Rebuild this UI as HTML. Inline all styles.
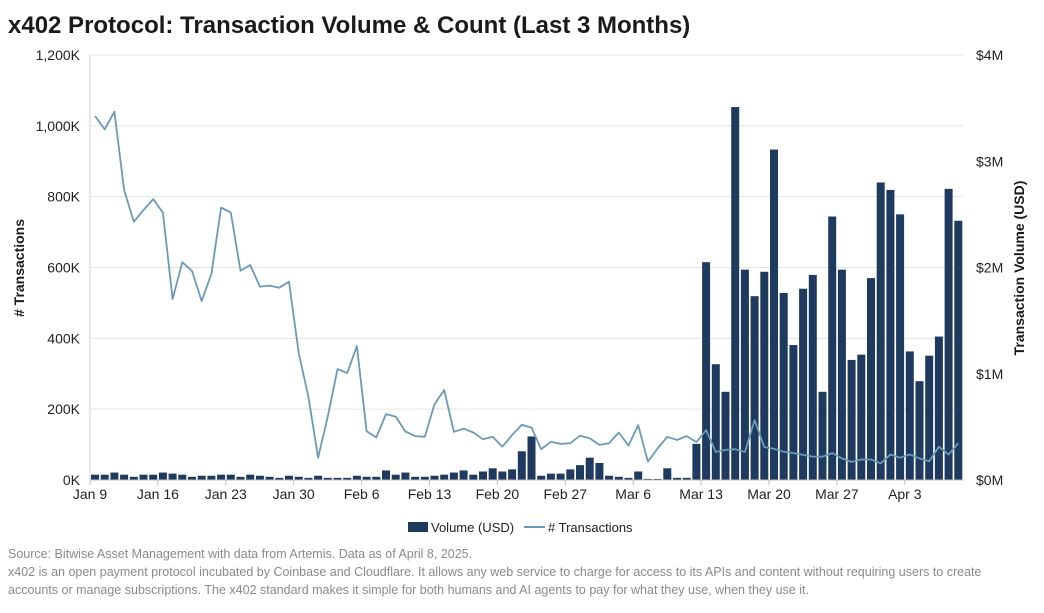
<!DOCTYPE html>
<html><head><meta charset="utf-8"><style>
body{margin:0;background:#fff;font-family:"Liberation Sans",Arial,sans-serif;}
svg text{font-family:"Liberation Sans",Arial,sans-serif;}
</style></head><body>
<svg id="c" width="1044" height="608">
<text x="8" y="33" font-size="24" font-weight="bold" fill="#1a1a1a">x402 Protocol: Transaction Volume &amp; Count (Last 3 Months)</text>
<g id="grid"></g><g id="bars"></g><g id="line"></g><g id="axes"></g>
<text transform="translate(24,268) rotate(-90)" text-anchor="middle" font-size="14" font-weight="bold" fill="#1a1a1a"># Transactions</text>
<text transform="translate(1024,268) rotate(-90)" text-anchor="middle" font-size="14" font-weight="bold" fill="#1a1a1a">Transaction Volume (USD)</text>
<g>
<rect x="408" y="522" width="20" height="10" fill="#1f3a5f"/>
<text x="431" y="532" font-size="13" fill="#222">Volume (USD)</text>
<line x1="524" y1="527" x2="545" y2="527" stroke="#6b9ab8" stroke-width="2"/>
<text x="548" y="532" font-size="13" fill="#222"># Transactions</text>
</g>
<g font-size="12.5" fill="#8a8a8a">
<text x="8" y="558">Source: Bitwise Asset Management with data from Artemis. Data as of April 8, 2025.</text>
<text x="8" y="576">x402 is an open payment protocol incubated by Coinbase and Cloudflare. It allows any web service to charge for access to its APIs and content without requiring users to create</text>
<text x="8" y="594">accounts or manage subscriptions. The x402 standard makes it simple for both humans and AI agents to pay for what they use, when they use it.</text>
</g>
</svg>
<script>
const leftTicks=[0,200,400,600,800,1000,1200];
const leftTickLabels=["0K","200K","400K","600K","800K","1,000K","1,200K"];
const rightTicks=[0,1,2,3,4];
const rightTickLabels=["$0M","$1M","$2M","$3M","$4M"];
const xTickDays=[0,7,14,21,28,35,42,49,56,63,70,77,84];
const xTickLabels=["Jan 9","Jan 16","Jan 23","Jan 30","Feb 6","Feb 13","Feb 20","Feb 27","Mar 6","Mar 13","Mar 20","Mar 27","Apr 3"];
const volumeM=[.05,.05,.07,.05,.03,.05,.05,.07,.06,.05,.03,.04,.04,.05,.05,.03,.05,.04,.03,.02,.04,.03,.02,.04,.02,.02,.02,.04,.03,.03,.09,.05,.07,.03,.03,.04,.05,.07,.09,.05,.08,.11,.08,.10,.27,.41,.04,.06,.06,.10,.14,.21,.16,.04,.03,.02,.08,.01,.01,.11,.02,.02,.34,2.05,1.09,.83,3.51,1.98,1.73,1.96,3.11,1.76,1.27,1.80,1.93,.83,2.48,1.98,1.13,1.18,1.90,2.80,2.73,2.50,1.21,.93,1.17,1.35,2.74,2.44];
const txnK=[1028,990,1040,819,729,762,793,755,511,615,590,505,582,769,755,591,607,546,549,543,560,359,235,63,179,313,302,378,138,120,186,179,137,124,122,214,254,136,145,134,115,122,94,127,156,148,87,108,102,104,125,118,99,104,134,97,155,52,89,122,113,124,107,141,79,85,87,79,169,93,88,80,76,71,66,66,76,61,51,58,58,47,72,63,72,61,53,94,72,104];
const NS="http://www.w3.org/2000/svg";
const X0=90,DX=9.7,Y0=480,H=425;
const xs=d=>X0+d*DX;
const yL=v=>Y0-v/1200*H;
const yR=v=>Y0-v/4*H;
function mk(t,a,p){const e=document.createElementNS(NS,t);for(const k in a)e.setAttribute(k,a[k]);p.appendChild(e);return e;}
const grid=document.getElementById('grid'),axes=document.getElementById('axes');
leftTicks.forEach((v,i)=>{
 if(v>0){const g=mk('line',{x1:X0,x2:963,y1:yL(v),y2:yL(v),stroke:'#e3e3e3','stroke-width':1},grid);
 
 }
 const t=mk('text',{x:80,y:yL(v)+5,'text-anchor':'end','font-size':14,fill:'#222'},axes);t.textContent=leftTickLabels[i];
 
 
});
rightTicks.forEach((v,i)=>{
 const t=mk('text',{x:976,y:yR(v)+5,'font-size':14,fill:'#222'},axes);t.textContent=rightTickLabels[i];
 
 
});
const al=mk('line',{x1:X0,x2:X0,y1:55,y2:Y0,stroke:'#d0d0d0'},axes);


const bl=mk('line',{x1:X0,x2:963,y1:Y0,y2:Y0,stroke:'#bbb'},axes);


xTickDays.forEach((d,i)=>{
 const tk=mk('line',{x1:xs(d),x2:xs(d),y1:Y0,y2:Y0+5,stroke:'#bbb'},axes);
 
 
 const t=mk('text',{x:xs(d),y:Y0+19,'text-anchor':'middle','font-size':14,fill:'#222'},axes);t.textContent=xTickLabels[i];
 
 
});
const bars=document.getElementById('bars');
volumeM.forEach((v,d)=>{
 const r=mk('rect',{x:xs(d)+1,y:yR(v),width:8,height:Y0-yR(v),fill:'#1f3a5f'},bars);
 
 
});
const pts=txnK.map((v,d)=>(xs(d)+5).toFixed(1)+','+yL(v).toFixed(1)).join(' ');
const pl=mk('polyline',{points:pts,fill:'none',stroke:'#6b9ab8','stroke-width':1.8,'stroke-linejoin':'round'},document.getElementById('line'));


</script>
</body></html>
